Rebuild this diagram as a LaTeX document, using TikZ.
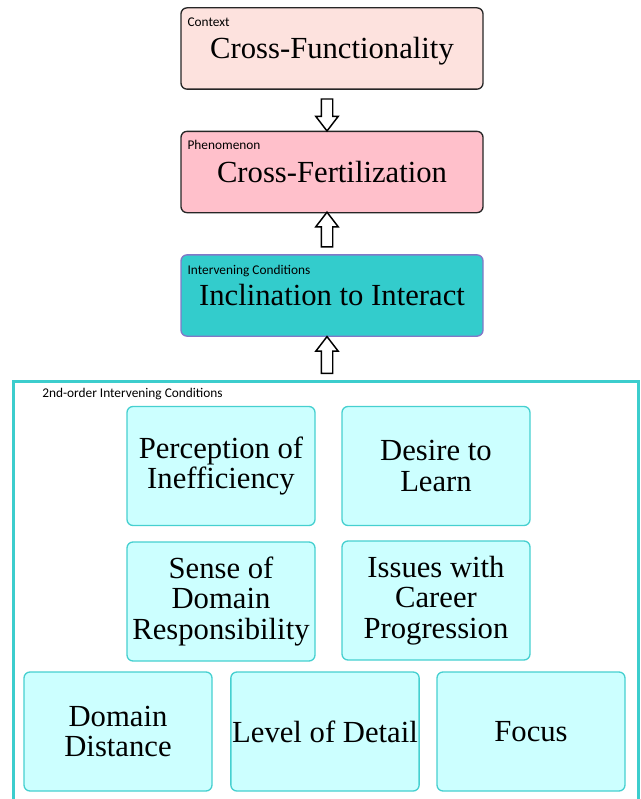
\documentclass[tikz,border=0pt]{standalone}
\usepackage{fontspec}
\setmainfont{Liberation Serif}
\newfontfamily\tagfont{Carlito}
\usepackage{tikz}
\usetikzlibrary{positioning,shapes.arrows,calc}
\definecolor{contextpink}{RGB}{253,226,222}
\definecolor{phenpink}{RGB}{255,192,203}
\definecolor{interteal}{RGB}{51,204,204}
\definecolor{interedge}{RGB}{130,120,200}
\definecolor{condcyan}{RGB}{204,255,255}
\definecolor{condedge}{RGB}{70,208,208}
\definecolor{frameteal}{RGB}{60,205,205}

\begin{document}
\begin{tikzpicture}[x=0.75pt,y=0.75pt,
    mainbox/.style={draw=black!85, line width=1pt, rounded corners=4.5pt,
      minimum width=226.5pt, minimum height=61pt, text height=19.5pt, text depth=4.5pt,
      font=\fontsize{23}{23}\selectfont},
    condbox/.style={draw=condedge, fill=condcyan, line width=1pt, rounded corners=4.5pt,
      minimum width=141pt, minimum height=89.25pt, align=center, inner sep=1pt,
      font=\fontsize{23}{23}\selectfont},
    tag/.style={font=\tagfont\fontsize{10}{10}\selectfont, inner sep=0pt, anchor=base west},
    hollowarrow/.style={single arrow, draw=black, fill=white, line width=1.1pt,
      inner sep=3.75pt, single arrow head extend=4.1pt, single arrow tip angle=75}]
    \useasboundingbox (0,0) rectangle (641,-799);
    % main chain
    \node[mainbox, fill=contextpink] (ctx) at (332,-48.5) {Cross-Functionality};
    \node[mainbox, fill=phenpink] (phen) at (332,-172) {Cross-Fertilization};
    \node[mainbox, fill=interteal, draw=interedge] (inter) at (332,-295.5) {Inclination to Interact};
    \node[tag] (ctxtag) at ($(ctx.north west)+(7,-19)$) {Context};
    \node[tag] (phentag) at ($(phen.north west)+(7,-19)$) {Phenomenon};
    \node[tag] (intertag) at ($(inter.north west)+(7,-20)$) {Intervening Conditions};
    % frame of the 2nd-order conditions
    \coordinate (framenw) at (13.5,-381.5);
    \coordinate (framene) at (638.3,-381.5);
    \draw[frameteal, line width=2.3pt] (13.5,-830) -- (framenw) -- (framene) -- (638.3,-830);
    \node[tag] (frametag) at (42,-397) {2nd-order Intervening Conditions};
    % arrows
    \node[hollowarrow, shape border rotate=270, minimum height=24pt] (arr1)
      at ($($(ctx.south)!0.5!(phen.north)$)+(-5,-1)$) {};
    \node[hollowarrow, shape border rotate=90, minimum height=26pt] (arr2)
      at ($($(phen.south)!0.5!(inter.north)$)+(-5,0.5)$) {};
    \node[hollowarrow, shape border rotate=90, minimum height=27.5pt] (arr3)
      at ($($(inter.south)!0.5!(inter.south |- framenw)$)+(-5,0.5)$) {};
    % 2nd-order conditions
    \foreach \n/\x/\y/\t in {perc/221/466/{Perception of\\Inefficiency},
        desire/436/466/{Desire to\\Learn},
        sense/221/601.5/{Sense of\\Domain\\Responsibility},
        issues/436/600.5/{Issues with\\Career\\Progression},
        dist/118/731.5/{Domain\\Distance},
        detail/325/731.5/{Level of Detail},
        focus/531/731.5/{Focus}} {
      \node[condbox] (\n) at (\x,-\y) {\t};
    }
  \end{tikzpicture}
\end{document}
